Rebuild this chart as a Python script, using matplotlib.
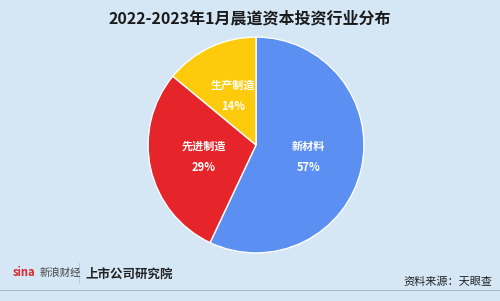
import matplotlib.pyplot as plt
import numpy as np

plt.rcParams['font.family'] = ['Noto Sans CJK SC', 'DejaVu Sans']

# 行业分布数据
labels = ['新材料', '先进制造', '生产制造']
shares = [57, 29, 14]
colors = ['#5b8ff2', '#e5252a', '#fdca0c']

bg = '#d5e6f4'
fig = plt.figure(figsize=(5, 3.01), dpi=100, facecolor=bg)

fig.text(0.5, 0.94, '2022-2023年1月晨道资本投资行业分布', ha='center', va='center',
         fontsize=11.5, fontweight='bold', color='#1a1a1a')

# 饼图位置：中心约 (256,145)，半径约 108 像素
ax = fig.add_axes([(256 - 109) / 500, (301 - 145 - 109) / 301, 218 / 500, 218 / 301])
ax.set_facecolor(bg)
wedges, texts = ax.pie(shares, colors=colors, startangle=90, counterclock=False,
                       wedgeprops=dict(edgecolor='white', linewidth=1))
ax.set_xlim(-1.01, 1.01)
ax.set_ylim(-1.01, 1.01)
ax.set_aspect('equal')

# 扇区标签
total = sum(shares)
ang = 90.0
for lab, v in zip(labels, shares):
    mid = ang - v / total * 360 / 2
    ang -= v / total * 360
    r = 0.5
    x, y = r * np.cos(np.radians(mid)), r * np.sin(np.radians(mid))
    ax.text(x, y, f'{lab}\n{v}%', ha='center', va='center', color='white',
            fontsize=8, fontweight='bold', linespacing=1.8)

# 底部
fig.add_artist(plt.Line2D([0, 1], [(301 - 290) / 301] * 2, color='#a9bccd', lw=0.8))
fig.text(0.025, (301 - 273) / 301, 'sina', color='#d8262b', fontsize=8,
         fontweight='bold', fontstyle='italic', va='center')
fig.text(0.08, (301 - 273) / 301, '新浪财经', color='#444444', fontsize=7.5,
         fontstyle='italic', va='center')
fig.add_artist(plt.Line2D([0.158, 0.158], [(301 - 283) / 301, (301 - 263) / 301],
                          color='#b5c3d0', lw=0.6))
fig.text(0.17, (301 - 274) / 301, '上市公司研究院', color='#222222', fontsize=9,
         fontweight='bold', fontstyle='italic', va='center')
fig.text(0.985, (301 - 282) / 301, '资料来源：天眼查', color='#222222', fontsize=8,
         ha='right', va='center')

fig.savefig('out.png', dpi=100, facecolor=bg)
